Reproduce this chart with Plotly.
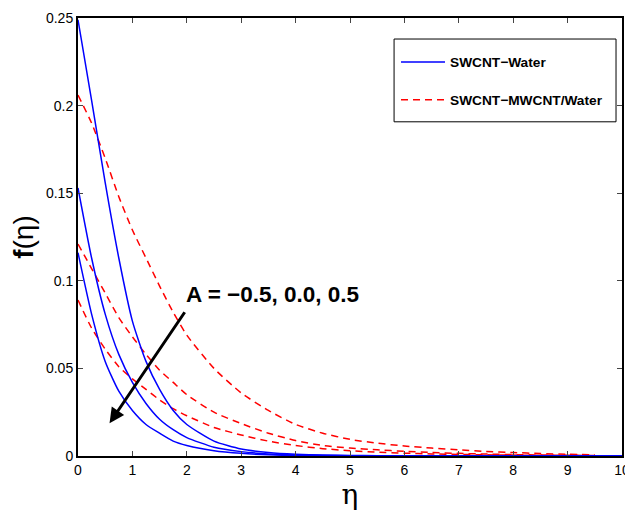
import plotly.graph_objects as go

# eta grid and curve values
ETA = [0, 0.25, 0.5, 0.75, 1.0, 1.25, 1.5, 1.75, 2.0, 2.5, 3.0, 3.5, 4.0, 4.5,
       5.0, 5.5, 6.0, 6.5, 7.0, 7.5, 8.0, 8.5, 9.0, 9.5, 10.0]

# SWCNT-Water (solid blue), A = -0.5, 0.0, 0.5
WATER_1 = [0.249, 0.203, 0.156, 0.113, 0.077, 0.054, 0.038, 0.026, 0.018, 0.0085,
           0.004, 0.002, 0.001, 0.0005, 0.0003, 0.0002, 0.0001, 0, 0, 0, 0, 0, 0, 0, 0]
WATER_2 = [0.153, 0.113, 0.081, 0.058, 0.042, 0.030, 0.021, 0.015, 0.0105, 0.005,
           0.0025, 0.0012, 0.0006, 0.0003, 0.0002, 0.0001, 0, 0, 0, 0, 0, 0, 0, 0, 0]
WATER_3 = [0.116, 0.081, 0.054, 0.037, 0.026, 0.018, 0.013, 0.0085, 0.006, 0.003,
           0.0015, 0.0007, 0.0003, 0.0002, 0.0001, 0, 0, 0, 0, 0, 0, 0, 0, 0, 0]

# SWCNT-MWCNT/Water (dashed red), A = -0.5, 0.0, 0.5
HYBRID_1 = [0.206, 0.190, 0.170, 0.148, 0.129, 0.113, 0.097, 0.082, 0.069, 0.050,
            0.036, 0.026, 0.018, 0.013, 0.0095, 0.0073, 0.0057, 0.0045, 0.0035,
            0.0026, 0.002, 0.0014, 0.001, 0.0007, None]
HYBRID_2 = [0.121, 0.107, 0.093, 0.079, 0.068, 0.058, 0.049, 0.042, 0.035, 0.025,
            0.0185, 0.013, 0.0088, 0.006, 0.0045, 0.0035, 0.0027, 0.002, 0.0015,
            0.0011, 0.0008, 0.0006, 0.0004, 0.0003, None]
HYBRID_3 = [0.089, 0.073, 0.061, 0.051, 0.044, 0.038, 0.032, 0.027, 0.023, 0.0163,
            0.012, 0.0085, 0.006, 0.0042, 0.003, 0.0022, 0.0016, 0.0012, 0.0009,
            0.0007, 0.0005, 0.0004, 0.0003, 0.0002, None]

WATER = [WATER_1, WATER_2, WATER_3]
HYBRID = [HYBRID_1, HYBRID_2, HYBRID_3]
LABEL_WATER = "SWCNT\u2212Water"
LABEL_HYBRID = "SWCNT\u2212MWCNT/Water"

X_TICKS = [0, 1, 2, 3, 4, 5, 6, 7, 8, 9, 10]
Y_TICKS = [0, 0.05, 0.1, 0.15, 0.2, 0.25]
Y_TICK_TEXT = ["0", "0.05", "0.1", "0.15", "0.2", "0.25"]

FONT = "Liberation Sans, Arial, sans-serif"

fig = go.Figure()

for i, ys in enumerate(HYBRID):
    fig.add_trace(go.Scatter(
        x=ETA, y=ys, mode="lines", name="<b>" + LABEL_HYBRID + "</b>",
        line=dict(color="#FF0000", width=1.5, dash="7px,5px", shape="spline", smoothing=0.6),
        legendgroup="hybrid", showlegend=(i == 0), legendrank=2,
    ))

for i, ys in enumerate(WATER):
    fig.add_trace(go.Scatter(
        x=ETA, y=ys, mode="lines", name="<b>" + LABEL_WATER + "</b>",
        line=dict(color="#0000FF", width=1.5, shape="spline", smoothing=0.6),
        legendgroup="water", showlegend=(i == 0), legendrank=1,
    ))

# Arrow and annotation text
fig.add_annotation(
    x=0.58, y=0.0187, ax=1.98, ay=0.0829, xref="x", yref="y", axref="x", ayref="y",
    showarrow=True, arrowhead=2, arrowsize=1.0, arrowwidth=3, arrowcolor="black", text="",
)
fig.add_annotation(
    x=1.94, y=0.0922, xref="x", yref="y", xanchor="left", yanchor="middle",
    text="<b>A = \u22120.5, 0.0, 0.5</b>", showarrow=False,
    font=dict(family=FONT, size=22.5, color="black"),
)

# legend frame
fig.add_shape(type="rect", xref="paper", yref="paper",
              x0=0.581, x1=0.989, y0=0.763, y1=0.952,
              line=dict(color="black", width=1), fillcolor="rgba(0,0,0,0)", layer="above")

axis_common = dict(
    showline=True, linecolor="black", linewidth=2, mirror="ticks",
    ticks="inside", ticklen=5, tickwidth=1, tickcolor="#444",
    showgrid=False, zeroline=False, automargin=False,
    ticklabeloverflow="allow",
    tickfont=dict(family=FONT, size=14, color="black"),
)

fig.update_xaxes(
    range=[0, 10], tickvals=X_TICKS, **axis_common,
    title=dict(text="\u03b7", font=dict(family="DejaVu Serif, serif", size=28, color="black"), standoff=7),
)
fig.update_yaxes(
    range=[0, 0.25], tickvals=Y_TICKS, ticktext=Y_TICK_TEXT, **axis_common,
    title=dict(text="<b>f</b>(\u03b7)", font=dict(family=FONT, size=28, color="black"), standoff=4),
)

fig.update_layout(
    width=625, height=518,
    margin=dict(l=78, r=3, t=18, b=62, autoexpand=False),
    paper_bgcolor="white", plot_bgcolor="white",
    showlegend=True,
    legend=dict(
        x=0.5846, y=0.935, xanchor="left", yanchor="top",
        borderwidth=0, bgcolor="rgba(0,0,0,0)",
        font=dict(family=FONT, size=13.7, color="black"),
        traceorder="grouped", tracegroupgap=17, itemwidth=44,
    ),
)

fig.write_html(
    "out.html",
    config={"displayModeBar": False},
    post_script="document.body.style.margin='0';document.body.style.overflow='hidden';",
)
